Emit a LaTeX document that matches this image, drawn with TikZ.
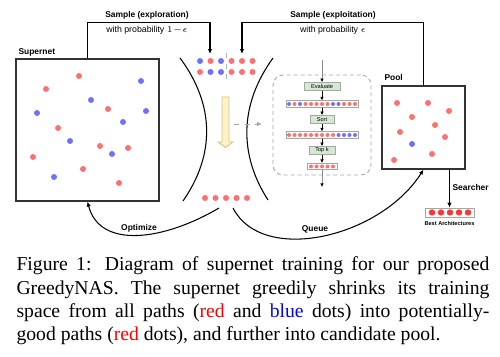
\documentclass[tikz,border=0pt]{standalone}
\usepackage{fontspec}
\setmainfont{Liberation Serif}
\setsansfont{Liberation Sans}
\usetikzlibrary{arrows.meta}

\definecolor{dotred}{RGB}{255,112,112}
\definecolor{dotblue}{RGB}{112,112,255}
\definecolor{bestred}{RGB}{255,52,52}
\definecolor{stepgreen}{RGB}{213,232,212}
\definecolor{arrowyellow}{RGB}{252,242,198}
\definecolor{arrowedge}{RGB}{214,196,140}

\tikzset{
  lbl/.style={font=\sffamily\bfseries\fontsize{4.8}{5.5}\selectfont, inner sep=0pt},
  probtext/.style={font=\sffamily\fontsize{5}{6}\selectfont, inner sep=0pt},
  bigbox/.style={draw=black!80, line width=0.7pt, inner sep=0pt},
  stepbox/.style={draw=black!35, fill=stepgreen, line width=0.4pt, minimum height=1.6mm,
    inner sep=0pt, font=\sffamily\fontsize{3.2}{3.5}\selectfont},
  rowbox/.style={draw=black!35, fill=white, line width=0.4pt, minimum height=1.3mm, inner sep=0pt},
  tinyarrow/.style={-{Latex[length=2pt,width=2pt,color=black]}, line width=0.45pt}
}

\begin{document}
\begin{tikzpicture}[x=0.02cm,y=-0.02cm,>={Latex[length=2.8pt,width=2.5pt]},line width=0.6pt]
    \useasboundingbox (0,0) rectangle (500,357);
    % supernet
    \node[bigbox, minimum width=28.6mm, minimum height=28.4mm] (sn) at (87.5,130) {};
    \node[lbl, anchor=base west] (snlabel) at (18,54.5) {Supernet};
    \foreach \x/\y/\c in {79/76/dotred, 141/81/dotblue, 46/89/dotred, 91/100/dotblue,
        108/109/dotred, 37/113/dotblue, 146/111/dotblue, 123/122/dotblue, 58/128/dotred,
        70/141/dotblue, 100/146/dotred, 128/148/dotred, 112/154/dotblue, 33/157/dotred,
        83/169/dotred, 54/177/dotblue, 119/183/dotred}
        \fill[\c] (\x,\y) circle (3);
    % pool
    \node[bigbox, minimum width=16.6mm, minimum height=16.6mm] (pool) at (423.5,127.5) {};
    \node[lbl, anchor=base west] (poollabel) at (384,81) {Pool};
    \foreach \x/\y/\c in {397/103/dotred, 428/103/dotred, 449/111/dotred, 412/117/dotred,
        435/125/dotred, 400/132/dotred, 445/137/dotred, 412/144/dotblue, 432/154/dotred,
        394/160/dotred}
        \fill[\c] (\x,\y) circle (3);
    % sampling
    \coordinate (explin) at (210,54);
    \coordinate (exploitin) at (242,54);
    \draw[->] (sn.north) -- ++(0,-36) -| (explin);
    \draw[->] (pool.north) -- ++(0,-63) -| (exploitin);
    \node[lbl, anchor=base] (explore) at (147,18) {Sample (exploration)};
    \node[probtext, anchor=base] (pexplore) at (147,33) {with probability $1{-}\epsilon$};
    \node[lbl, anchor=base] (exploit) at (333,18) {Sample (exploitation)};
    \node[probtext, anchor=base] (pexploit) at (333,33) {with probability $\epsilon$};
    % sampled paths
    \foreach \c [count=\i] in {dotblue,dotred,dotblue,dotred,dotred,dotred}
        \fill[\c] (189.5+10.5*\i,61) circle (3);
    \foreach \c [count=\i] in {dotred,dotblue,dotblue,dotred,dotred,dotred}
        \fill[\c] (189.5+10.5*\i,72) circle (3);
    \draw[dashed, black!30, line width=0.5pt] (226,53) -- (226,79);
    % hourglass
    \draw (180,58) .. controls (215,105) and (215,155) .. (183,201);
    \draw (273,58) .. controls (239,105) and (239,155) .. (268,200);
    \draw[arrowedge, fill=arrowyellow, line width=0.5pt] (222,97) -- (229,97) -- (229,142)
        -- (233,142) -- (225.5,147.5) -- (218,142) -- (222,142) -- cycle;
    \coordinate (dashfrom) at (234,124);
    \coordinate (dashto) at (262,124);
    \draw[dashed, black!35, line width=0.5pt, -{Latex[length=2.8pt,width=2.6pt]}] (dashfrom) -- (dashto);
    \foreach \x in {205,215.5,226,236.5,247}
        \fill[dotred] (\x,198) circle (3);
    % queue
    \node[draw=black!35, dash pattern=on 2.3pt off 1.7pt, line width=0.5pt, rounded corners=5.7pt,
        minimum width=19.6mm, minimum height=20mm] (queue) at (322,125) {};
    \node[stepbox, minimum width=7.2mm] (eval) at (322,86.5) {Evaluate};
    \node[rowbox, minimum width=14.4mm] (rowA) at (322,104) {};
    \node[stepbox, minimum width=4.8mm] (sort) at (322,119.5) {Sort};
    \node[rowbox, minimum width=14.4mm] (rowB) at (322,135) {};
    \node[stepbox, minimum width=5.2mm] (topk) at (322,150.5) {Top k};
    \node[rowbox, minimum width=6mm] (rowC) at (322,166.5) {};
    \foreach \c [count=\i] in {dotblue,dotred,dotblue,dotred,dotred,dotred,dotred,dotred,
        dotblue,dotblue,dotred,dotred,dotred}
        \fill[\c] (283.5+5.5*\i,104) circle (2);
    \foreach \c [count=\i] in {dotred,dotred,dotred,dotred,dotred,dotred,dotred,dotred,
        dotred,dotblue,dotblue,dotblue,dotblue}
        \fill[\c] (283.5+5.5*\i,135) circle (2);
    \foreach \i in {1,...,5}
        \fill[dotred] (305.5+5.5*\i,166.5) circle (2);
    \coordinate (qin) at (322,60);
    \coordinate (qout) at (322,187);
    \draw[tinyarrow, black!45] (qin) -- (eval);
    \draw[tinyarrow] (eval) -- (rowA);
    \draw[tinyarrow] (rowA) -- (sort);
    \draw[tinyarrow] (sort) -- (rowB);
    \draw[tinyarrow] (rowB) -- (topk);
    \draw[tinyarrow] (topk) -- (rowC);
    \draw[tinyarrow, black!45] (rowC) -- (qout);
    % optimize and queue
    \coordinate (optfrom) at (219,208);
    \coordinate (queuefrom) at (233,208);
    \draw[->] (optfrom) .. controls (165,240) and (100,250) .. (sn.south);
    \draw[->] (queuefrom) .. controls (262,265) and (380,238) .. (pool.south);
    \node[lbl, anchor=base] (optlabel) at (139,231) {Optimize};
    \node[lbl, anchor=base] (queuelabel) at (315,232) {Queue};
    % searcher
    \node[rowbox, minimum width=9.8mm, minimum height=1.8mm] (best) at (449.5,212.5) {};
    \foreach \x in {432,441,450,459,468}
        \fill[bestred] (\x,212.5) circle (3.2);
    \draw[->] (pool.south -| best.north) -- (best.north);
    \node[lbl, anchor=base west] (searchlabel) at (452,191) {Searcher};
    \node[font=\sffamily\bfseries\fontsize{3.2}{3.5}\selectfont, inner sep=0pt, anchor=base]
        (bestlabel) at (449.5,225.5) {Best Architectures};
    % caption
    \node[anchor=north west, inner sep=0pt, text width=94.6mm, align=justify,
        font=\fontsize{11.2}{13.2}\selectfont] (caption) at (16,256.5)
        {Figure 1: Diagram of supernet training for our proposed\linebreak
        GreedyNAS. The supernet greedily shrinks its training\linebreak
        space from all paths (\textcolor{red}{red} and \textcolor{blue}{blue} dots) into potentially-\linebreak
        good paths (\textcolor{red}{red} dots), and further into candidate pool.};
\end{tikzpicture}
\end{document}
